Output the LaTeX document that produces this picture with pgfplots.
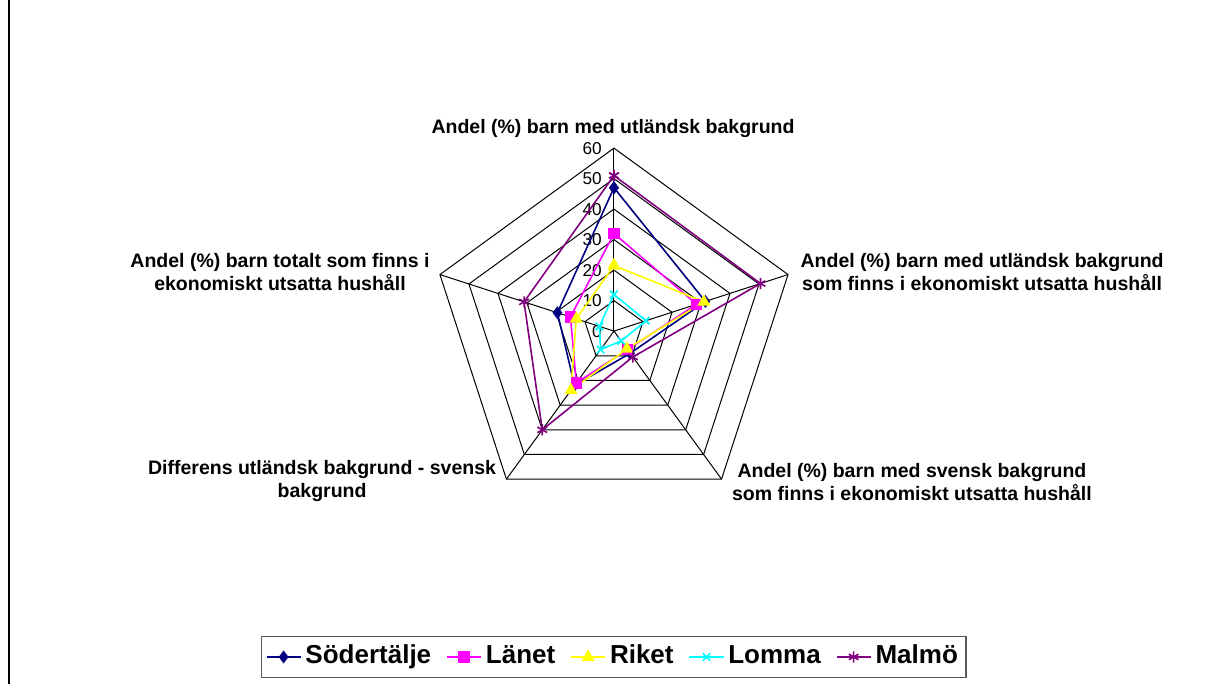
\documentclass[border=0pt]{standalone}
\usepackage{fontspec}
\setmainfont{Liberation Sans}
\usepackage{pgfplots}
\pgfplotsset{compat=1.18}
\usepgfplotslibrary{polar}
\definecolor{cSod}{HTML}{000080}
\definecolor{cLan}{HTML}{FF00FF}
\definecolor{cRik}{HTML}{FFFF00}
\definecolor{cLom}{HTML}{00FFFF}
\definecolor{cMal}{HTML}{800080}

\begin{document}
\begin{tikzpicture}
\useasboundingbox (0,0) rectangle (609pt,342pt);
\draw[line width=1pt] (4.5pt,0) -- (4.5pt,342pt);
\begin{axis}[
  at={(0,0)}, anchor=south west,
  x=1.525pt, y=1.525pt,
  xmin=-201.3, xmax=198.0, ymin=-115.7, ymax=108.5,
  hide axis, clip=false,
  legend columns=5,
  legend style={at={(0.504,0.0395)}, anchor=center, draw=black!65,
    line width=0.7pt, font=\fontsize{13}{15}\bfseries\selectfont,
    inner xsep=2pt, inner ysep=2pt,
    nodes={text height=9.5pt, text depth=3pt},
    /tikz/every even column/.append style={column sep=5.5pt}},
  every axis plot/.append style={line width=0.8pt},
]
% pentagon grid
\pgfplotsinvokeforeach{10,20,30,40,50,60}{
  \addplot[forget plot, black, line width=0.5pt, data cs=polar]
    coordinates {(90,#1)(18,#1)(-54,#1)(-126,#1)(162,#1)(90,#1)};
}
\pgfplotsinvokeforeach{90,18,-54,-126,162}{
  \addplot[forget plot, black, line width=0.5pt, data cs=polar]
    coordinates {(#1,0)(#1,60)};
}
\pgfplotsinvokeforeach{0,10,20,30,40,50,60}{
  \node[anchor=east, inner sep=0, font=\fontsize{8.6}{9}\selectfont]
    at (axis cs:-3.9,#1) {#1};
}

\addplot[cSod, data cs=polar, mark=diamond*, mark size=2.6pt, mark options={fill=cSod}]
  coordinates {(90,47)(18,31.5)(-54,9)(-126,22)(162,19.5)(90,47)};
\addlegendentry{Södertälje}
\addplot[cLan, data cs=polar, mark=square*, mark size=2.4pt, mark options={fill=cLan}]
  coordinates {(90,32)(18,28.5)(-54,7.5)(-126,21)(162,15)(90,32)};
\addlegendentry{Länet}
\addplot[cRik, data cs=polar, mark=triangle*, mark size=3pt, mark options={fill=cRik}]
  coordinates {(90,21.5)(18,31)(-54,7.2)(-126,24)(162,13)(90,21.5)};
\addlegendentry{Riket}
\addplot[cLom, data cs=polar, mark=x, mark size=2.6pt]
  coordinates {(90,12)(18,11)(-54,4)(-126,7.5)(162,5)(90,12)};
\addlegendentry{Lomma}
\addplot[cMal, data cs=polar, mark=asterisk, mark size=2.8pt]
  coordinates {(90,51)(18,50.5)(-54,10.5)(-126,40)(162,31)(90,51)};
\addlegendentry{Malmö}

\begin{scope}[every node/.style={font=\fontsize{9.75}{11.5}\bfseries\selectfont, align=center, inner sep=0}]
\node[anchor=base] at (axis cs:-0.3,64.9) {Andel (\%) barn med utländsk bakgrund};
\node[anchor=center] at (axis cs:120.7,19.3) {Andel (\%) barn med utländsk bakgrund\\som finns i ekonomiskt utsatta hushåll};
\node[anchor=center] at (axis cs:97.7,-49.5) {Andel (\%) barn med svensk bakgrund\\som finns i ekonomiskt utsatta hushåll};
\node[anchor=center] at (axis cs:-95.7,-49.2) {Differens utländsk bakgrund - svensk\\bakgrund};
\node[anchor=center] at (axis cs:-109.5,19.3) {Andel (\%) barn totalt som finns i\\ekonomiskt utsatta hushåll};
\end{scope}
\end{axis}
\end{tikzpicture}
\end{document}
